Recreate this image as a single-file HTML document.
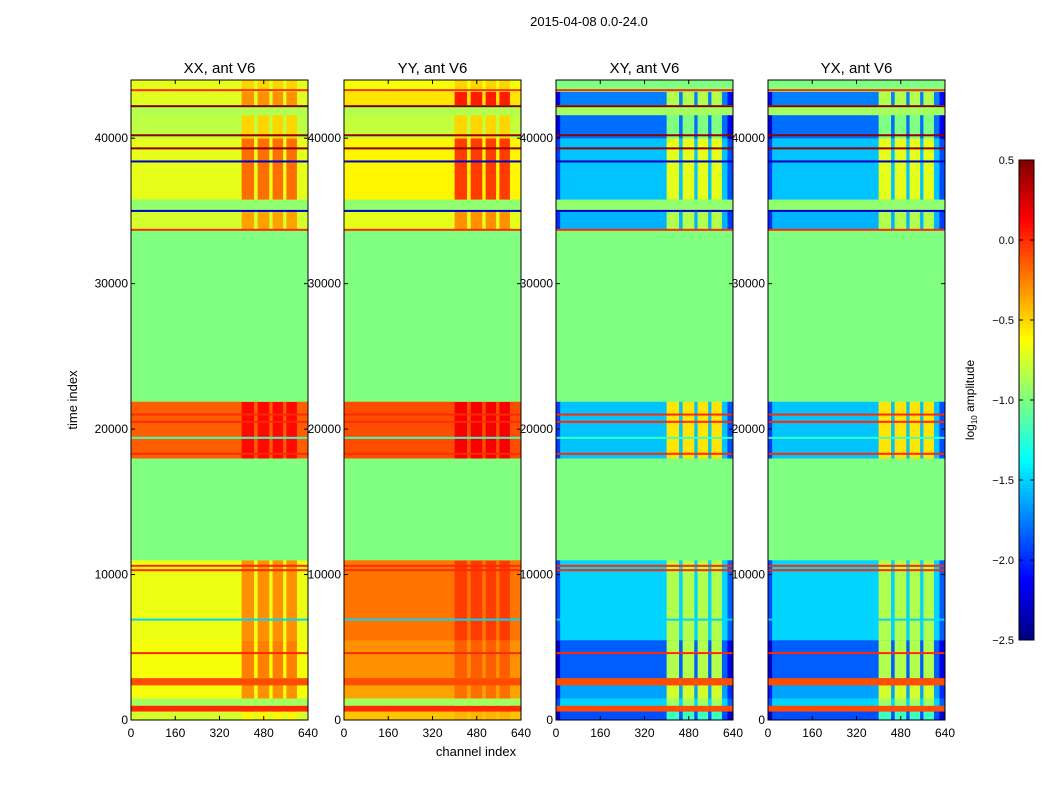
<!DOCTYPE html>
<html><head><meta charset="utf-8"><style>
body{margin:0;background:#fff;font-family:"Liberation Sans",sans-serif;}
svg text{font-family:"Liberation Sans",sans-serif;}
</style></head><body>
<svg id="fig" width="1050" height="800">
<rect width="1050" height="800" fill="#fff"/>
<text x="589" y="26" font-size="13" text-anchor="middle">2015-04-08 0.0-24.0</text>
<text x="476" y="756" font-size="13" text-anchor="middle">channel index</text>
<text x="77" y="400" font-size="13" text-anchor="middle" transform="rotate(-90 77 400)">time index</text>
<g id="panels"></g>
<g id="cbar"></g>
</svg>
<script>
const panelTitles = ["XX, ant V6","YY, ant V6","XY, ant V6","YX, ant V6"];
const bandStart = [0,600,1000,1500,2400,2900,5500,11000,18000,21900,33700,35000,35800,40000,41600,42300,43200];
const bandEnd   = [600,1000,1500,2400,2900,5500,11000,18000,21900,33700,35000,35800,40000,41600,42300,43200,44000];
const xxLeft  = [-0.75,0.0,-0.9,-0.65,-0.1,-0.65,-0.68,-1.0,-0.15,-1.0,-0.75,-0.95,-0.7,-0.82,-0.85,-0.72,-0.7];
const xxRight = [-0.6,0.0,-0.9,-0.3,-0.1,-0.25,-0.3,-1.0,0.1,-1.0,-0.35,-0.95,-0.2,-0.5,-0.85,-0.3,-0.5];
const yyLeft  = [-0.45,0.0,-0.9,-0.35,-0.1,-0.3,-0.22,-1.0,-0.1,-1.0,-0.7,-0.95,-0.6,-0.8,-0.85,-0.55,-0.65];
const yyRight = [-0.4,0.0,-0.9,-0.2,-0.1,-0.15,-0.05,-1.0,0.15,-1.0,-0.3,-0.95,-0.05,-0.5,-0.85,0.05,-0.5];
const xyLeft  = [-1.9,-0.1,-1.5,-1.65,-0.1,-1.85,-1.5,-1.0,-1.55,-1.0,-1.6,-0.95,-1.55,-1.8,-0.9,-1.75,-1.0];
const xyRight = [-1.2,-0.1,-0.9,-0.75,-0.1,-0.85,-0.85,-1.0,-0.55,-1.0,-0.85,-0.95,-0.7,-1.0,-0.9,-0.85,-1.0];
const yxLeft  = xyLeft.slice();
const yxRight = xyRight.slice();
const lineT   = [4600,6900,10300,10600,18300,19400,20500,21000,33700,35000,38400,39300,40200,42200,43300];
const lineV   = [0.0,-1.5,0.0,0.0,0.0,-1.2,0.0,0.0,0.0,-2.3,-2.3,0.45,0.45,0.5,0.0];
const stripeStart = [400,458,512,562];
const stripeEnd   = [445,500,550,600];
const xTicks = [0,160,320,480,640];
const yTicks = [0,10000,20000,30000,40000];
const cbTicks = [0.5,0.0,-0.5,-1.0,-1.5,-2.0,-2.5];
const panelLeft = [131,344,556,768];
const vals = [[xxLeft,xxRight],[yyLeft,yyRight],[xyLeft,xyRight],[yxLeft,yxRight]];
const VMIN=-2.5, VMAX=0.5, TMAX=44000, CMAX=640, PW=177, PTOP=80, PBOT=720;
function jet(v){
  let x=(v-VMIN)/(VMAX-VMIN); x=Math.max(0,Math.min(1,x));
  const f=t=>Math.max(0,Math.min(1,1.5-Math.abs(4*x-t)));
  const r=f(3),g=f(2),b=f(1);
  return `rgb(${Math.round(r*255)},${Math.round(g*255)},${Math.round(b*255)})`;
}
const yS=t=>PBOT-t/TMAX*(PBOT-PTOP);
const NS="http://www.w3.org/2000/svg";
function mk(tag,attrs,parent){const e=document.createElementNS(NS,tag);for(const k in attrs)e.setAttribute(k,attrs[k]);parent.appendChild(e);return e;}
const root=document.getElementById('panels');
panelTitles.forEach((title,p)=>{
  const L=panelLeft[p];
  const xS=c=>L+c/CMAX*PW;
  const g=mk('g',{},root);
  
  
  const [lv,rv]=vals[p];
  for(let i=0;i<bandStart.length;i++){
    const y0=yS(bandEnd[i]),y1=yS(bandStart[i]);
    const r=mk('rect',{x:xS(0),y:y0,width:PW,height:y1-y0+0.3,fill:jet(lv[i])},g);
    
    
    if(p>=2 && lv[i]<-1.3){
      const e1=mk('rect',{x:xS(0),y:y0,width:xS(15)-xS(0),height:y1-y0+0.3,fill:jet(lv[i]-0.4)},g);
      
      
      const e2=mk('rect',{x:xS(620),y:y0,width:xS(640)-xS(620),height:y1-y0+0.3,fill:jet(lv[i]-0.35)},g);
      
      
    }
    for(let s=0;s<stripeStart.length;s++){
      const sr=mk('rect',{x:xS(stripeStart[s]),y:y0,width:xS(stripeEnd[s])-xS(stripeStart[s]),height:y1-y0+0.3,fill:jet(rv[i])},g);
      
      
    }
  }
  for(let j=0;j<lineT.length;j++){
    const ln=mk('rect',{x:xS(0),y:yS(lineT[j])-1,width:PW,height:2,fill:jet(lineV[j])},g);
    
    
  }
  const fr=mk('rect',{x:L,y:PTOP,width:PW,height:PBOT-PTOP,fill:'none',stroke:'#000','stroke-width':1},g);
  
  
  const tt=mk('text',{x:L+PW/2,y:73,'font-size':15,'text-anchor':'middle'},g);
  tt.textContent=title;
  
  
  xTicks.forEach(v=>{
    const x=xS(v);
    mk('line',{x1:x,x2:x,y1:PBOT,y2:PBOT-4,stroke:'#000'},g);
    mk('line',{x1:x,x2:x,y1:PTOP,y2:PTOP+4,stroke:'#000'},g);
    const t=mk('text',{x:x,y:PBOT+17,'font-size':12,'text-anchor':'middle'},g);
    t.textContent=v;
    
    
  });
  yTicks.forEach(v=>{
    const y=yS(v);
    mk('line',{x1:L,x2:L+4,y1:y,y2:y,stroke:'#000'},g);
    mk('line',{x1:L+PW,x2:L+PW-4,y1:y,y2:y,stroke:'#000'},g);
    const t=mk('text',{x:L-3,y:y+4,'font-size':12,'text-anchor':'end'},g);
    t.textContent=v;
    
    
  });
});
const cb=document.getElementById('cbar');


const CX=1019,CW=15,CT=160,CB=640;
const cbY=v=>CT+(VMAX-v)/(VMAX-VMIN)*(CB-CT);
for(let i=0;i<120;i++){
  const v0=VMAX-i*(VMAX-VMIN)/120;
  const r=mk('rect',{x:CX,y:cbY(v0),width:CW,height:(CB-CT)/120+0.5,fill:jet(v0-(VMAX-VMIN)/240)},cb);
  
  
}
mk('rect',{x:CX,y:CT,width:CW,height:CB-CT,fill:'none',stroke:'#000'},cb);
cbTicks.forEach(v=>{
  const y=cbY(v);
  mk('line',{x1:CX,x2:CX+4,y1:y,y2:y,stroke:'#000'},cb);
  mk('line',{x1:CX+CW,x2:CX+CW-4,y1:y,y2:y,stroke:'#000'},cb);
  const t=mk('text',{x:1014,y:y+4,'font-size':11,'text-anchor':'end'},cb);
  t.textContent=(v<0?'\u2212':'')+Math.abs(v).toFixed(1);
  
  
});
const lbl=mk('text',{x:974,y:400,'font-size':12,'text-anchor':'middle',transform:'rotate(-90 974 400)'},cb);
lbl.innerHTML='log<tspan font-size="8" dy="3">10</tspan><tspan dy="-3"> amplitude</tspan>';


</script>
</body></html>
